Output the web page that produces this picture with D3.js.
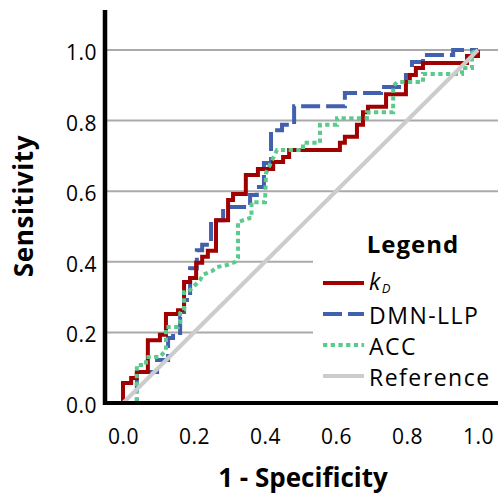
<!DOCTYPE html>
<html>
<head>
<meta charset="utf-8">
<script src="https://cdn.jsdelivr.net/npm/d3@7"></script>
<style>
    body { margin: 0; background: #fff; }
    svg text { font-family: "Open Sans", "Noto Sans", sans-serif; fill: #000; }
</style>
</head>
<body>
<svg id="roc" width="498" height="494"></svg>
<script>
// ROC points (1 - specificity, sensitivity)
const kdFpr = [0, 0, 0.023, 0.023, 0.039, 0.039, 0.070, 0.070, 0.104, 0.104, 0.121, 0.121, 0.155, 0.155, 0.172, 0.172,
    0.189, 0.189, 0.206, 0.206, 0.223, 0.223, 0.239, 0.239, 0.262, 0.262, 0.296, 0.296, 0.310, 0.310, 0.346, 0.346,
    0.380, 0.380, 0.423, 0.423, 0.451, 0.451, 0.468, 0.468, 0.611, 0.611, 0.625, 0.625, 0.659, 0.659, 0.676, 0.676,
    0.690, 0.690, 0.741, 0.741, 0.797, 0.797, 0.808, 0.808, 0.825, 0.825, 0.845, 0.845, 0.969, 0.969, 1, 1];
const kdTpr = [0, 0.057, 0.057, 0.071, 0.071, 0.088, 0.088, 0.178, 0.178, 0.193, 0.193, 0.252, 0.252, 0.263, 0.263, 0.343,
    0.343, 0.354, 0.354, 0.397, 0.397, 0.414, 0.414, 0.431, 0.431, 0.518, 0.518, 0.575, 0.575, 0.592, 0.592, 0.646,
    0.646, 0.663, 0.663, 0.683, 0.683, 0.697, 0.697, 0.717, 0.717, 0.737, 0.737, 0.754, 0.754, 0.788, 0.788, 0.824,
    0.824, 0.839, 0.839, 0.875, 0.875, 0.909, 0.909, 0.929, 0.929, 0.949, 0.949, 0.963, 0.963, 0.983, 0.983, 1];

const dmnFpr = [0, 0.039, 0.039, 0.096, 0.096, 0.127, 0.127, 0.141, 0.141, 0.161, 0.161, 0.172, 0.172, 0.189, 0.189,
    0.208, 0.208, 0.223, 0.223, 0.248, 0.248, 0.282, 0.282, 0.358, 0.358, 0.377, 0.377, 0.397, 0.397, 0.417, 0.417,
    0.448, 0.448, 0.482, 0.482, 0.625, 0.625, 0.727, 0.727, 0.797, 0.797, 0.814, 0.814, 0.845, 0.845, 0.930, 0.930, 1];
const dmnTpr = [0, 0, 0.088, 0.088, 0.122, 0.122, 0.184, 0.184, 0.198, 0.198, 0.244, 0.244, 0.292, 0.292, 0.382,
    0.382, 0.433, 0.433, 0.448, 0.448, 0.518, 0.518, 0.555, 0.555, 0.589, 0.589, 0.612, 0.612, 0.680, 0.680, 0.773,
    0.773, 0.788, 0.788, 0.841, 0.841, 0.878, 0.878, 0.895, 0.895, 0.929, 0.929, 0.966, 0.966, 0.986, 0.986, 1, 1];

const accFpr = [0, 0.039, 0.039, 0.065, 0.065, 0.104, 0.121, 0.121, 0.155, 0.161, 0.161, 0.172, 0.172, 0.183, 0.217,
    0.225, 0.251, 0.265, 0.293, 0.315, 0.324, 0.324, 0.358, 0.362, 0.362, 0.400, 0.403, 0.420, 0.434, 0.507, 0.507,
    0.555, 0.555, 0.603, 0.603, 0.687, 0.687, 0.761, 0.761, 0.772, 0.845, 0.845, 0.955, 0.955, 0.983, 0.983, 1];
const accTpr = [0, 0, 0.108, 0.108, 0.130, 0.130, 0.150, 0.215, 0.215, 0.229, 0.255, 0.263, 0.314, 0.314, 0.348,
    0.363, 0.374, 0.385, 0.391, 0.399, 0.411, 0.513, 0.524, 0.524, 0.569, 0.569, 0.652, 0.688, 0.717, 0.717, 0.737,
    0.737, 0.788, 0.788, 0.807, 0.807, 0.824, 0.824, 0.898, 0.909, 0.909, 0.932, 0.932, 0.949, 0.949, 0.992, 1];

const refFpr = [0, 1];
const refTpr = [0, 1];

const xTicks = [0, 0.2, 0.4, 0.6, 0.8, 1.0];
const yTicks = [0, 0.2, 0.4, 0.6, 0.8, 1.0];
const gridTicks = [0.2, 0.4, 0.6, 0.8, 1.0];

const seriesNames = ["kD", "DMN-LLP", "ACC", "Reference"];
const seriesColors = ["#a00000", "#4360ae", "#5cca8d", "#cccccc"];
const seriesDash = [null, "19,6", "4.3,3.4", null];

const svg = d3.select("#roc");

const x = d3.scaleLinear().domain([0, 1]).range([123, 478]);
const y = d3.scaleLinear().domain([0, 1]).range([403, 50]);

// gridlines
svg.append("g")
    .selectAll("line")
    .data(gridTicks)
    .enter().append("line")
    .attr("x1", 107)
    .attr("x2", 498)
    .attr("y1", d => y(d))
    .attr("y2", d => y(d))
    .attr("stroke", "#aaaaaa")
    .attr("stroke-width", 2);

// tick labels through the axis generators
const xAxis = svg.append("g")
    .attr("transform", `translate(0,${y(0)})`)
    .call(d3.axisBottom(x).tickValues(xTicks).tickFormat(d3.format(".1f")).tickSize(0).tickPadding(26));
const yAxis = svg.append("g")
    .attr("transform", "translate(105,0)")
    .call(d3.axisLeft(y).tickValues(yTicks).tickFormat(d3.format(".1f")).tickSize(0).tickPadding(8));
[xAxis, yAxis].forEach(a => {
    a.select(".domain").remove();
    a.selectAll("text")
        .style("font-family", "'Open Sans', sans-serif")
        .style("font-size", "21px")
        .style("letter-spacing", "0.5px")
        .attr("fill", "#000");
});
yAxis.selectAll("text").attr("dy", "0.45em");

// legend backing
svg.append("rect")
    .attr("x", 313)
    .attr("y", 214)
    .attr("width", 185)
    .attr("height", 186)
    .attr("fill", "#fff");

// curves
const line = d3.line().x(d => x(d[0])).y(d => y(d[1]));
const curves = [
    d3.zip(dmnFpr, dmnTpr),
    d3.zip(kdFpr, kdTpr),
    d3.zip(accFpr, accTpr),
    d3.zip(refFpr, refTpr)
];
const order = [1, 0, 2, 3];

svg.append("g")
    .selectAll("path")
    .data(curves)
    .enter().append("path")
    .attr("d", d => line(d))
    .attr("fill", "none")
    .attr("stroke", (d, i) => seriesColors[order[i]])
    .attr("stroke-width", 4)
    .attr("stroke-dasharray", (d, i) => seriesDash[order[i]]);

// axes lines
svg.append("line")
    .attr("x1", 105).attr("x2", 105)
    .attr("y1", 10).attr("y2", 405)
    .attr("stroke", "#000").attr("stroke-width", 4.5);
svg.append("line")
    .attr("x1", 103).attr("x2", 498)
    .attr("y1", 403).attr("y2", 403)
    .attr("stroke", "#000").attr("stroke-width", 4);

// axis titles
svg.append("text")
    .attr("x", 303)
    .attr("y", 487)
    .attr("text-anchor", "middle")
    .style("font-size", "26px")
    .style("font-weight", "bold")
    .text("1 - Specificity");

svg.append("text")
    .attr("transform", "translate(33,206) rotate(-90)")
    .attr("text-anchor", "middle")
    .style("font-size", "26px")
    .style("font-weight", "bold")
    .style("letter-spacing", "0.6px")
    .text("Sensitivity");

// legend
const legend = svg.append("g");
legend.append("text")
    .attr("x", 413)
    .attr("y", 253)
    .attr("text-anchor", "middle")
    .style("font-size", "24px")
    .style("font-weight", "bold")
    .style("letter-spacing", "1px")
    .text("Legend");

const legendY = d3.scalePoint().domain(seriesNames).range([283, 376]);

legend.selectAll(".key")
    .data(seriesNames)
    .enter().append("line")
    .attr("class", "key")
    .attr("x1", 323)
    .attr("x2", 364)
    .attr("y1", d => legendY(d))
    .attr("y2", d => legendY(d))
    .attr("stroke", (d, i) => seriesColors[i])
    .attr("stroke-width", 4)
    .attr("stroke-dasharray", (d, i) => seriesDash[i]);

legend.selectAll(".label")
    .data(seriesNames)
    .enter().append("text")
    .attr("class", "label")
    .attr("x", 369)
    .attr("y", d => legendY(d) + (d === "kD" ? 7 : 10))
    .style("font-size", "23px")
    .style("letter-spacing", "1.5px")
    .each(function(d) {
        const t = d3.select(this);
        if (d === "kD") {
            t.append("tspan").style("font-style", "italic").text("k");
            t.append("tspan").style("font-style", "italic").style("font-size", "13px")
                .attr("dy", 3).text("D");
        } else {
            t.text(d);
        }
    });
</script>
</body>
</html>
